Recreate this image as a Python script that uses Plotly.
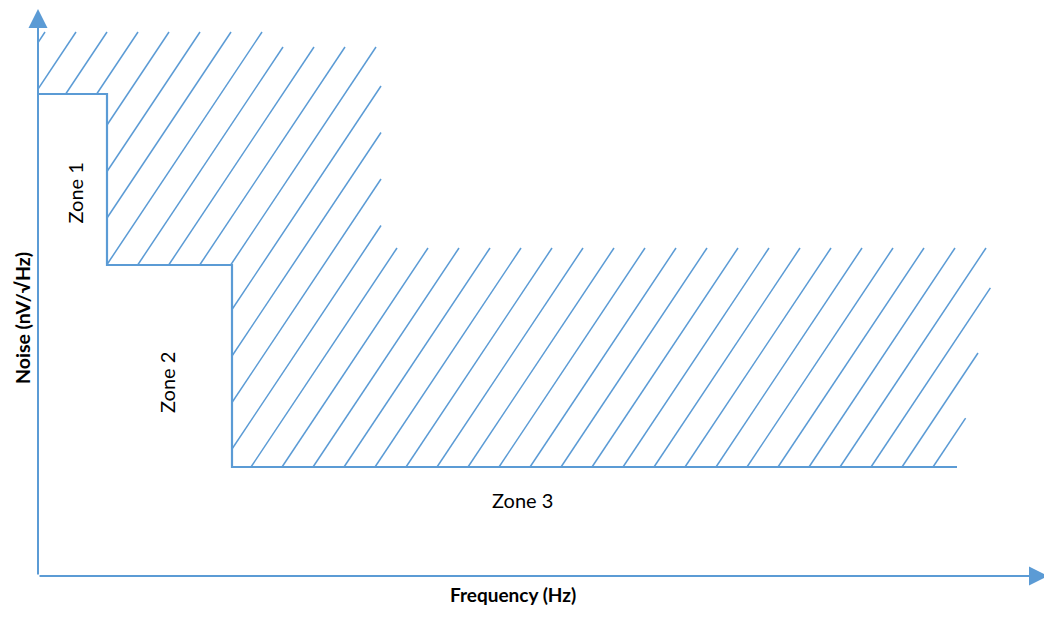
import plotly.graph_objects as go

# ---- data (arbitrary units: frequency along x, noise along y) ----
zone_edges = [0, 69, 194, 919]          # frequency boundaries of the zones
zone_noise = [482, 311, 109]            # noise limit in each zone
zone_labels = ["Zone 1", "Zone 2", "Zone 3"]
x_title = "Frequency (Hz)"
y_title = "Noise (nV/√Hz)"

# hatched (forbidden) region outline, same units
hatch_x = [0, 227, 227, 343, 343, 960, 924, 920, 194, 194, 69, 69, 0]
hatch_y = [544, 544, 529, 529, 328, 328, 139, 109, 109, 311, 311, 482, 482]

BLUE = "#5B9BD5"
FONT = "Lato"
XMAX, YMAX = 1014, 568

# ---- step line built from zone arrays ----
step_x, step_y = [], []
for i, lvl in enumerate(zone_noise):
    step_x += [zone_edges[i], zone_edges[i + 1]]
    step_y += [lvl, lvl]

# ---- hatch lines clipped to the region polygon ----
slope = 1.5
spacing = 31.0
u0 = 224 - 544 / slope
poly = list(zip(hatch_x, hatch_y))
hx, hy = [], []
umin = min(x - y / slope for x, y in poly)
umax = max(x - y / slope for x, y in poly)
k0 = int((umin - u0) // spacing) - 1
k1 = int((umax - u0) // spacing) + 2
for k in range(k0, k1):
    u = u0 + k * spacing + 1e-6
    ys = []
    n = len(poly)
    for j in range(n):
        x1, y1 = poly[j]
        x2, y2 = poly[(j + 1) % n]
        f1 = x1 - y1 / slope - u
        f2 = x2 - y2 / slope - u
        if (f1 < 0) != (f2 < 0):
            t = f1 / (f1 - f2)
            ys.append(y1 + t * (y2 - y1))
    ys.sort()
    for a, b in zip(ys[0::2], ys[1::2]):
        hx += [u + a / slope, u + b / slope, None]
        hy += [a, b, None]

fig = go.Figure()
fig.add_trace(go.Scatter(x=hx, y=hy, mode="lines",
                         line=dict(color=BLUE, width=1.5),
                         hoverinfo="skip", showlegend=False))
fig.add_trace(go.Scatter(x=step_x, y=step_y, mode="lines",
                         line=dict(color=BLUE, width=2.2),
                         hoverinfo="skip", showlegend=False))

ann = []
# axes with arrow heads
ann.append(dict(x=1010, y=0, ax=0, ay=0, xref="x", yref="y", axref="x", ayref="y",
                text="", showarrow=True, arrowhead=2, arrowsize=1.9,
                arrowwidth=2, arrowcolor=BLUE))
ann.append(dict(x=0, y=567, ax=0, ay=0, xref="x", yref="y", axref="x", ayref="y",
                text="", showarrow=True, arrowhead=2, arrowsize=1.9,
                arrowwidth=2, arrowcolor=BLUE))
# zone labels
label_pos = [(36.5, 383, -90), (129, 193, -90), (484, 76, 0)]
for lab, (lx, ly, ang) in zip(zone_labels, label_pos):
    ann.append(dict(x=lx, y=ly, xref="x", yref="y", text=lab, showarrow=False,
                    textangle=ang, xanchor="center", yanchor="middle",
                    font=dict(family=FONT, size=20, color="black")))
# axis titles (paper coordinates, outside the data area)
ann.append(dict(x=475 / XMAX, y=-18 / YMAX, xref="paper", yref="paper",
                xanchor="center", yanchor="middle",
                text="<b>%s</b>" % x_title, showarrow=False,
                font=dict(family=FONT, size=19, color="black")))
ann.append(dict(x=-16 / XMAX, y=258 / YMAX, xref="paper", yref="paper",
                xanchor="center", yanchor="middle",
                text="<b>%s</b>" % y_title, showarrow=False, textangle=-90,
                font=dict(family=FONT, size=19.5, color="black")))

fig.update_layout(
    width=1044, height=609,
    margin=dict(l=30, r=0, t=0, b=41),
    paper_bgcolor="white", plot_bgcolor="white",
    xaxis=dict(range=[0, XMAX], visible=False, fixedrange=True),
    yaxis=dict(range=[0, YMAX], visible=False, fixedrange=True),
    annotations=ann,
    showlegend=False,
)
fig.write_html("out.html")
